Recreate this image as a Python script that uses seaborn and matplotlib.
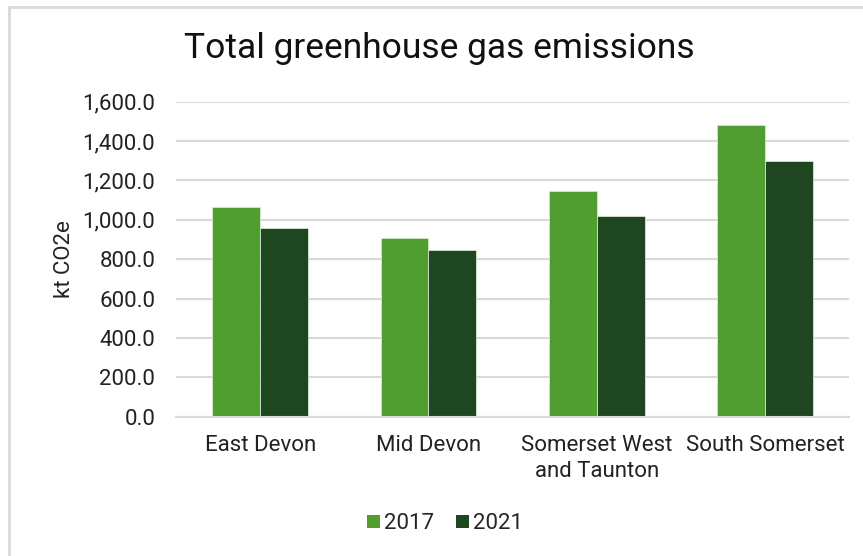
import matplotlib
matplotlib.use("Agg")
import matplotlib.pyplot as plt
import seaborn as sns
import pandas as pd
from matplotlib.patches import Patch
from matplotlib.lines import Line2D

categories = ["East Devon", "Mid Devon", "Somerset West\nand Taunton", "South Somerset"]
years = ["2017", "2021"]
values_2017 = [1064, 908, 1145, 1482]
values_2021 = [958, 845, 1020, 1300]
colors = {"2017": "#509E2F", "2021": "#1E4620"}

df = pd.DataFrame({
    "Area": categories * 2,
    "Year": ["2017"] * len(categories) + ["2021"] * len(categories),
    "Value": values_2017 + values_2021,
})

sns.set_theme(style="white")
plt.rcParams["font.family"] = ["Roboto", "DejaVu Sans"]

fig = plt.figure(figsize=(8.63, 5.56), dpi=100)
ax = fig.add_axes([0.204, 0.2505, 0.78, 0.5665])

sns.barplot(data=df, x="Area", y="Value", hue="Year", palette=colors,
            saturation=1, width=0.57, gap=0, ax=ax, edgecolor="#D5E8D0",
            linewidth=0.6, legend=False, errorbar=None)

ax.set_ylim(0, 1600)
ax.set_xlim(-0.5, 3.5)
ax.set_yticks(range(0, 1601, 200))
ax.set_yticklabels([f"{v:,.1f}" for v in range(0, 1601, 200)], fontsize=16, color="#222222")
ax.tick_params(axis="x", labelsize=16, colors="#222222", length=0, pad=13)
ax.tick_params(axis="y", length=0, pad=15)
for lbl in ax.get_xticklabels():
    lbl.set_linespacing(1.35)
ax.yaxis.grid(True, color="#D9D9D9", linewidth=1.5)
ax.set_axisbelow(True)
for s in ["top", "right", "left"]:
    ax.spines[s].set_visible(False)
ax.spines["bottom"].set_color("#D9D9D9")
ax.spines["bottom"].set_linewidth(1.5)
ax.set_xlabel("")
ax.set_ylabel("kt CO2e", fontsize=16, color="#222222", labelpad=5)

fig.text(0.509, 0.913, "Total greenhouse gas emissions", ha="center", va="center",
         fontsize=25.5, color="#111111")

handles = [Patch(facecolor=colors[y], edgecolor="none", label=y) for y in years]
fig.legend(handles=handles, loc="center", bbox_to_anchor=(0.516, 0.058), ncol=2,
           frameon=False, fontsize=16, handlelength=0.55, handleheight=0.55,
           handletextpad=0.2, columnspacing=1.0)

# outer chart frame (only top and left edges visible, as in the cropped original)
fig.add_artist(Line2D([0.011, 1.0], [0.987, 0.987], transform=fig.transFigure,
                      color="#D9D9D9", linewidth=2))
fig.add_artist(Line2D([0.011, 0.011], [0.0, 0.987], transform=fig.transFigure,
                      color="#D9D9D9", linewidth=2))

fig.savefig("out.png", dpi=100)
